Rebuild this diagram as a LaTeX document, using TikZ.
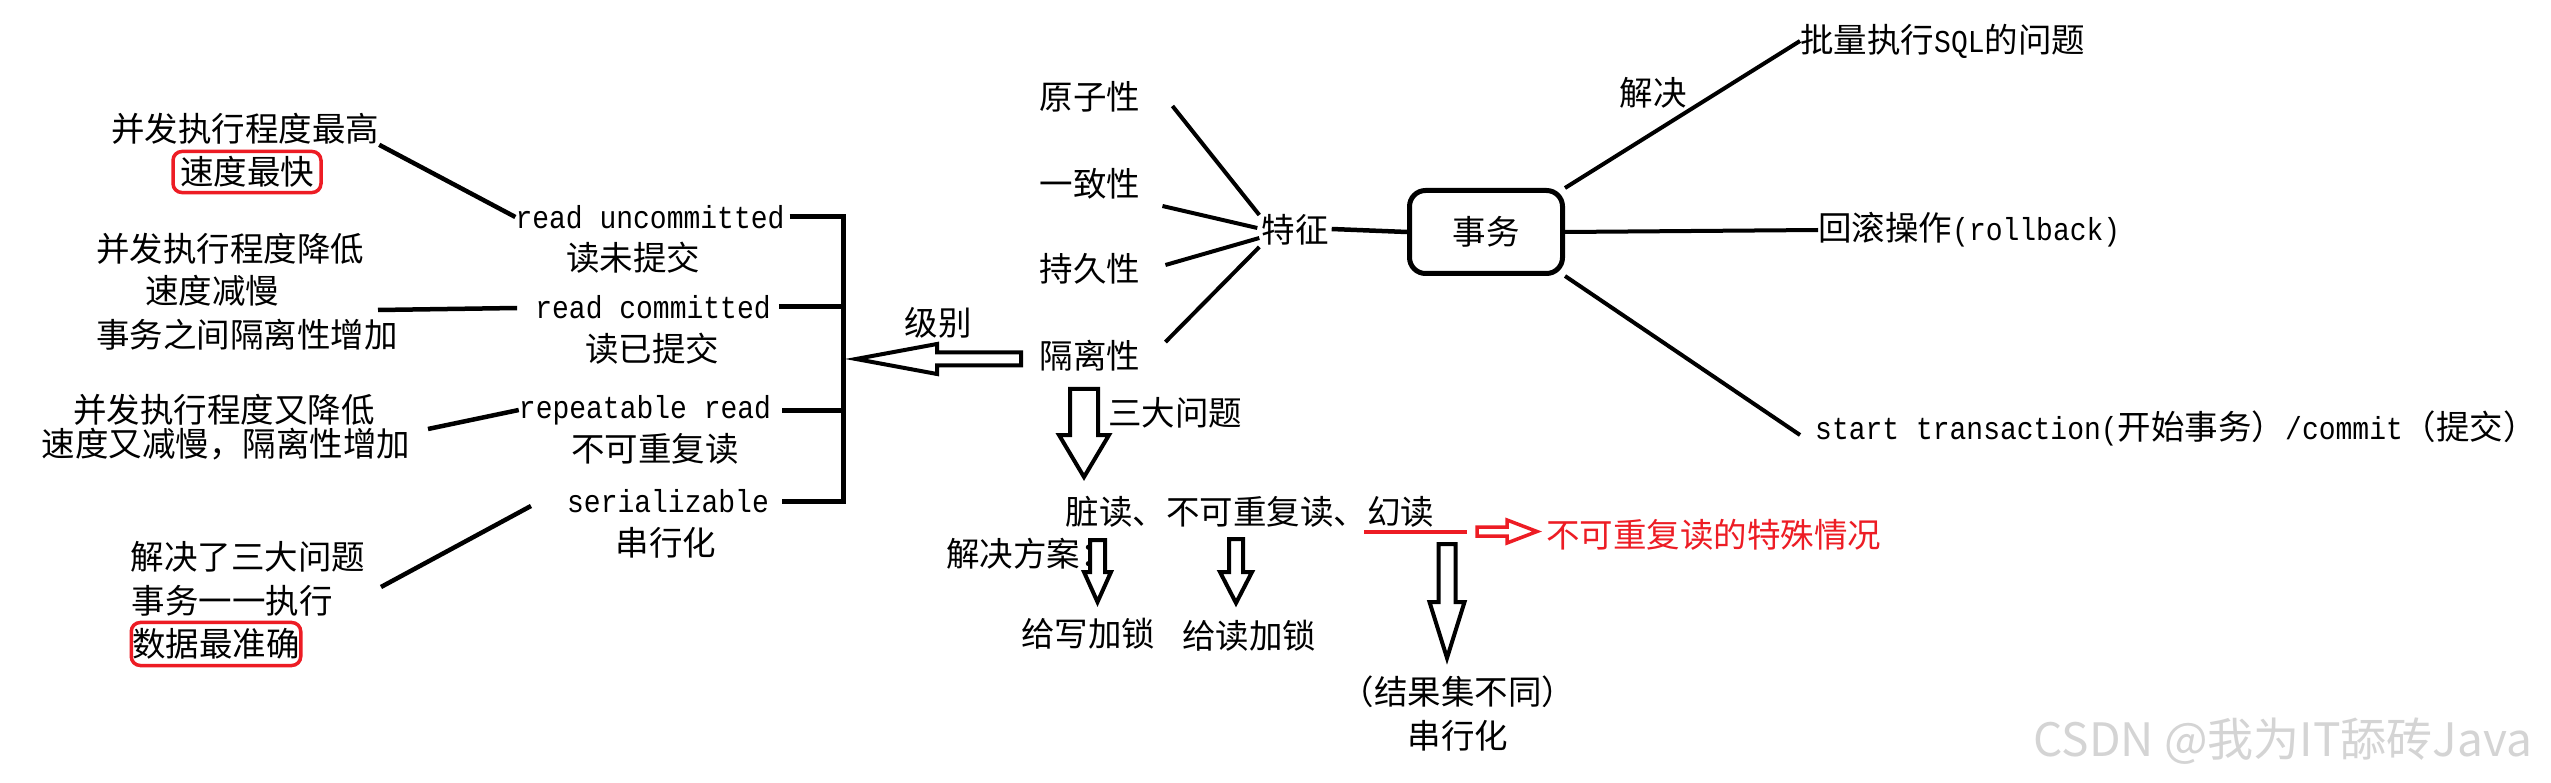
\documentclass[tikz,border=0pt]{standalone}
\usepackage{fontspec}
\setmainfont{Noto Sans CJK SC}
\newfontfamily\mono{Liberation Mono}[Scale=0.95,FakeStretch=0.88]
\usetikzlibrary{calc}
\definecolor{PaintRed}{RGB}{237,28,36}
\definecolor{MarkGray}{RGB}{212,212,212}
\tikzset{
  txt/.style={inner sep=0pt,font=\fontsize{33.5}{40}\selectfont},
  lvl/.style={inner sep=0pt,font=\fontsize{33.5}{40}\selectfont\mono},
  redbox/.style={txt,draw=PaintRed,line width=3.5pt,rounded corners=9pt,inner xsep=3pt,inner ysep=5pt},
  txbox/.style={txt,draw,line width=5pt,rounded corners=16pt,minimum width=153pt,minimum height=83pt},
  link/.style={line width=4.5pt},
  thinlink/.style={line width=4pt},
  levelbar/.style={line width=5pt},
  hollow/.style={draw,line width=4pt,fill=white},
  redhollow/.style={draw=PaintRed,line width=3.5pt,fill=white},
  redline/.style={draw=PaintRed,line width=4pt},
  wmark/.style={inner sep=0pt,text=MarkGray,font=\fontsize{46}{50}\selectfont},
}

\begin{document}
\begin{tikzpicture}[x=1pt,y=-1pt]
  \path[fill=white] (0,0) rectangle (2551,783);

  % notes on the left
  \node[txt] (n1a) at (245,129) {并发执行程度最高};
  \node[redbox,inner xsep=7pt] (n1b) at (247,172) {速度最快};
  \node[txt] (n2a) at (230,249) {并发执行程度降低};
  \node[txt] (n2b) at (212,291) {速度减慢};
  \node[txt] (n2c) at (247,335) {事务之间隔离性增加};
  \node[txt] (n3a) at (224,410) {并发执行程度又降低};
  \node[txt] (n3b) at (226,444) {速度又减慢，隔离性增加};
  \node[txt] (n4a) at (248,557) {解决了三大问题};
  \node[txt] (n4b) at (232,601) {事务一一执行};
  \node[redbox,inner xsep=1pt,inner ysep=6pt] (n4c) at (216,644) {数据最准确};

  % isolation levels
  \node[lvl] (ru) at (650,217) {read uncommitted};
  \node[txt] (ruz) at (633,258) {读未提交};
  \node[lvl] (rc) at (653,307) {read committed};
  \node[txt] (rcz) at (652,349) {读已提交};
  \node[lvl] (rr) at (645,410) {repeatable read};
  \node[txt] (rrz) at (655,449) {不可重复读};
  \node[lvl] (sr) at (668,501) {serializable};
  \node[txt] (srz) at (666,543) {串行化};

  \coordinate (n2end) at (378,310);
  \coordinate (n3end) at (428,429);
  \coordinate (n4end) at (381,587);
  \coordinate (spine) at (843,0);

  \draw[link] (n1a.south east) -- (ru.west);
  \draw[link] (n2end) -- ($(rc.west)+(-18,1)$);
  \draw[link] (n3end) -- (rr.west);
  \draw[link] (n4end) -- ($(sr.west)+(-36,5)$);

  \draw[levelbar] ([xshift=5pt]ru.east) -| (spine |- sr) -- ([xshift=13pt]sr.east);
  \draw[levelbar] ([xshift=8pt]rc.east) -- (rc -| spine);
  \draw[levelbar] ([xshift=11pt]rr.east) -- (rr -| spine);

  % ACID
  \node[txt] (atom) at (1090,97) {原子性};
  \node[txt] (cons) at (1090,184) {一致性};
  \node[txt] (dura) at (1090,269) {持久性};
  \node[txt] (iso) at (1090,356) {隔离性};
  \node[txt] (feat) at (1295,230) {特征};
  \draw[thinlink] ($(atom.east)+(32,9)$) -- ($(feat.west)+(-2,-15)$);
  \draw[thinlink] ($(cons.east)+(22,22)$) -- ($(feat.west)+(-4,-2)$);
  \draw[thinlink] ($(dura.east)+(25,-4)$) -- ($(feat.west)+(-2,8)$);
  \draw[thinlink] ($(iso.east)+(25,-14)$) -- ($(feat.west)+(-2,17)$);

  \node[txt] (lvlname) at (938,323) {级别};
  \coordinate (lvlTip) at (856,359);
  \draw[hollow] (lvlTip) -- ++(81,-15) -- ++(0,8.5) -- ++(84,0) -- ++(0,13) -- ++(-84,0) -- ++(0,8.5) -- cycle;

  % transaction
  \node[txbox] (tx) at (1486,232) {事务};
  \draw[link] ($(feat.east)+(3,-1)$) -- (tx.west);
  \node[txt,anchor=west] (sqlp) at (1800,41) {批量执行{\mono SQL}的问题};
  \node[txt,anchor=west] (roll) at (1818,230) {回滚操作{\mono(rollback)}};
  \node[txt,anchor=west] (st) at (1815,428) {{\mono start transaction(}开始事务）{\mono /commit}（提交）};
  \node[txt] (solve) at (1653,93) {解决};
  \draw[thinlink] (tx.north east) -- (sqlp.west);
  \draw[thinlink] (tx.east) -- (roll.west);
  \draw[thinlink] (tx.south east) -- ($(st.west)+(-15,7)$);

  % three problems
  \coordinate (qTop) at (1084,389);
  \draw[hollow] ($(qTop)+(-14,0)$) -- ++(0,46) -- ++(-11,0) -- ++(25,42) -- ++(25,-42) -- ++(-11,0) -- ++(0,-46) -- cycle;
  \node[txt] (qname) at (1175,413) {三大问题};
  \node[txt] (prob) at (1250,512) {脏读、不可重复读、幻读};
  \draw[redline] ($(prob.south east)+(-70,4)$) -- ++(103,0);
  \coordinate (redTail) at (1477,531.5);
  \draw[redhollow] ($(redTail)+(0,-4.5)$) -- ++(30,0) -- ++(0,-7) -- ++(30,11.5) -- ++(-30,11.5) -- ++(0,-7) -- ++(-30,0) -- cycle;
  \node[txt,anchor=west,text=PaintRed] (special) at (1546,535) {不可重复读的特殊情况};

  \node[txt,anchor=west] (sol) at (946,554) {解决方案：};
  \coordinate (wTop) at (1097.5,540);
  \coordinate (rTop) at (1236,539);
  \coordinate (sTop) at (1447,544);
  \draw[hollow] ($(wTop)+(-7.5,0)$) -- ++(0,32) -- ++(-6,0) -- ++(13.5,30) -- ++(13.5,-30) -- ++(-6,0) -- ++(0,-32) -- cycle;
  \draw[hollow] ($(rTop)+(-7,0)$) -- ++(0,33) -- ++(-9,0) -- ++(16,31) -- ++(16,-31) -- ++(-9,0) -- ++(0,-33) -- cycle;
  \draw[hollow] ($(sTop)+(-8.5,0)$) -- ++(0,58) -- ++(-9,0) -- ++(17.5,56) -- ++(17.5,-56) -- ++(-9,0) -- ++(0,-58) -- cycle;
  \node[txt] (wlock) at (1088,634) {给写加锁};
  \node[txt] (rlock) at (1249,636) {给读加锁};
  \node[txt] (diff) at (1458,692) {（结果集不同）};
  \node[txt] (serial) at (1458,736) {串行化};

  \node[wmark] (wm) at (2283,741) {CSDN @我为IT舔砖Java};
\end{tikzpicture}
\end{document}
